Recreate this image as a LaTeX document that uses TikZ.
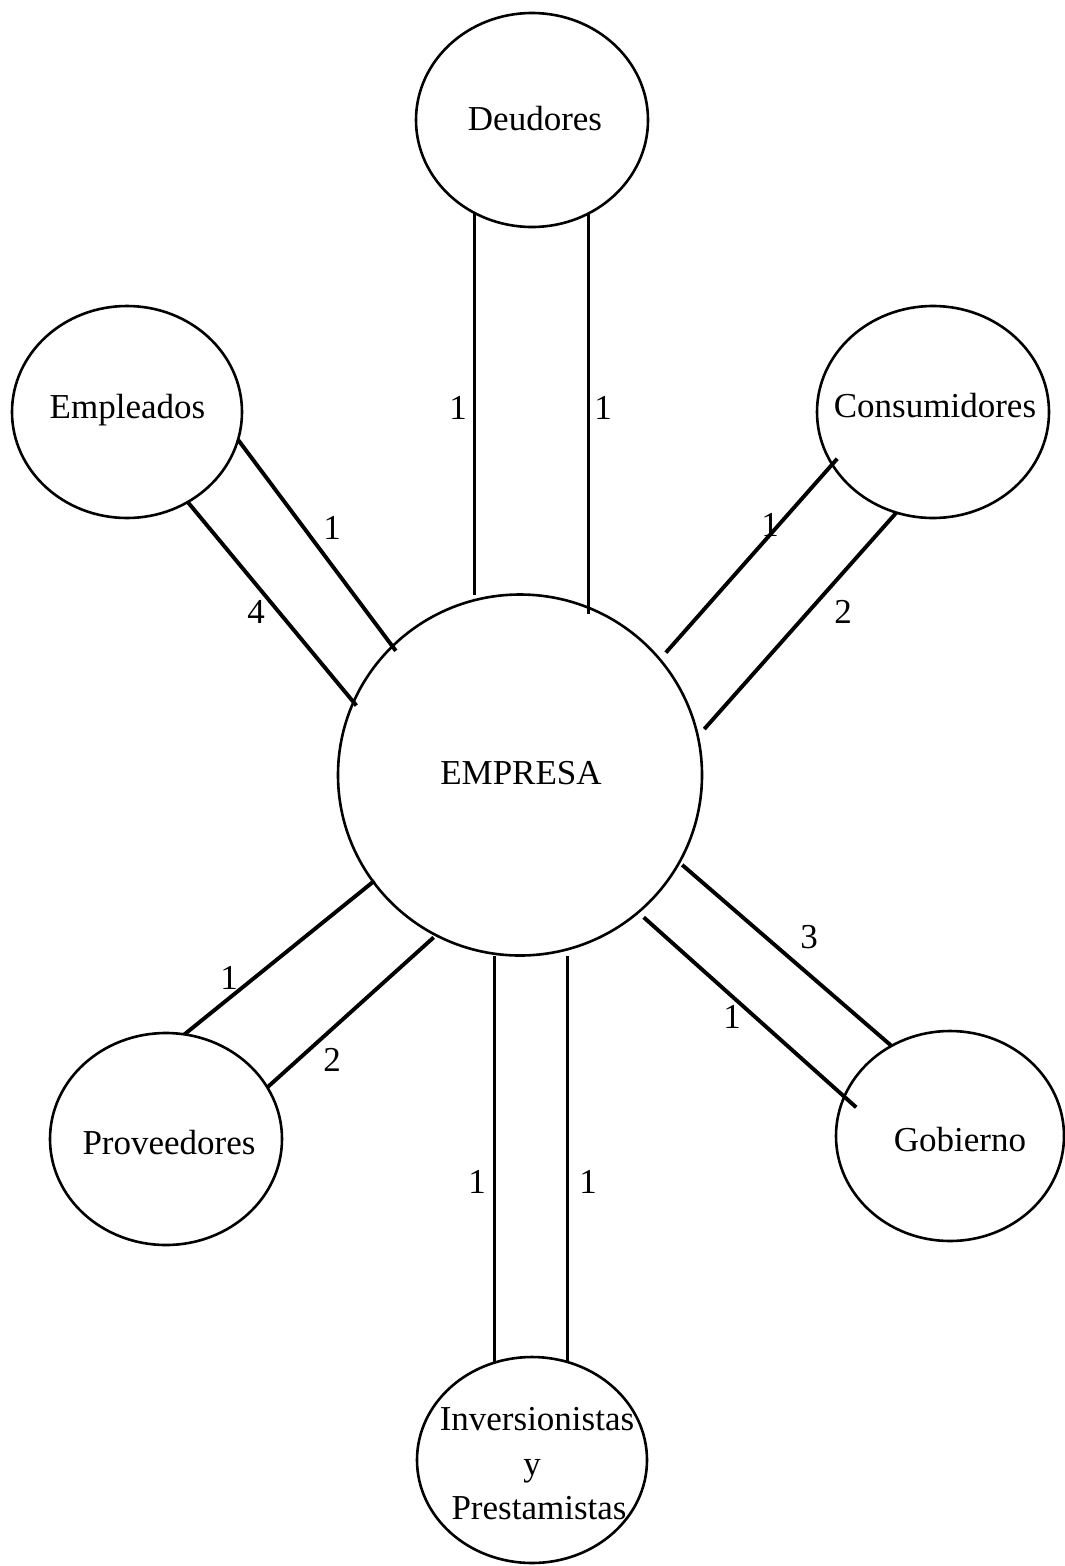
\documentclass[tikz,border=0pt]{standalone}
\usepackage{fontspec}
\setmainfont{Liberation Serif}
\usetikzlibrary{shapes.geometric,calc}
\begin{document}
\begin{tikzpicture}[x=1pt,y=-1pt,
  party/.style={ellipse,draw,line width=2.6pt,inner sep=0pt,outer sep=0pt,
                minimum width=232pt,minimum height=212pt},
  core/.style={party,minimum width=364pt,minimum height=361pt},
  partyname/.style={anchor=base,inner sep=0pt,font=\fontsize{35}{44}\selectfont},
  weight/.style={inner sep=0pt,font=\fontsize{35}{44}\selectfont},
  link/.style={line width=3.1pt},
  slant/.style={line width=3.9pt}]
\useasboundingbox (0,0) rectangle (1065,1566);

% the firm and its stakeholders
\node[core] (E) at (520,775) {};
\node[party,minimum height=214pt] (D) at (532,120) {};
\node[party,minimum width=230pt] (M) at (127,412) {};
\node[party] (C) at (933,412) {};
\node[party] (P) at (166,1139) {};
\node[party,minimum width=228pt,minimum height=210pt] (G) at (950,1136) {};
\node[party,minimum width=230pt,minimum height=206pt] (I) at (532,1460) {};

% names
\node[partyname] (tD) at (535,130) {Deudores};
\node[partyname] (tM) at (127.5,418) {Empleados};
\node[partyname] (tC) at (935,417) {Consumidores};
\node[partyname] (tE) at (521,784) {EMPRESA};
\node[partyname] (tP) at (169,1154) {Proveedores};
\node[partyname] (tG) at (960,1151) {Gobierno};
\node[partyname] (tI1) at (537,1430) {Inversionistas};
\node[partyname] (tI2) at (532,1475) {y};
\node[partyname] (tI3) at (539,1519) {Prestamistas};

% Deudores
\draw[link] (D.238) -- (D.238 |- E.north);
\draw[link] (D.301) -- (D.301 |- E.63);
% Empleados
\draw[slant] (M.346) -- ($(E.center)!0.969!(E.135.5)$);
\draw[slant] (M.304) -- ($(E.center)!0.978!(E.157.8)$);
% Consumidores
\draw[slant] ($(C.center)!0.936!(C.206.8)$) -- ($(E.center)!1.05!(E.40.7)$);
\draw[slant] (C.250.6) -- ($(E.center)!1.044!(E.14.4)$);
% Proveedores
\draw[slant] ($(E.center)!0.992!(E.216.2)$) -- (P.80.4);
\draw[slant] ($(E.center)!1.017!(E.242.2)$) -- (P.27.5);
% Gobierno
\draw[slant] ($(E.center)!1.021!(E.331.9)$) -- (G.123.5);
\draw[slant] ($(E.center)!1.041!(E.311.1)$) -- ($(G.center)!0.867!(G.163.4)$);
% Inversionistas y Prestamistas
\draw[link] (I.111.4) -- (I.111.4 |- E.south);
\draw[link] (I.70.6) -- (I.70.6 |- E.south);

% link weights
\node[weight] (wD1) at (458,408) {1};
\node[weight] (wD2) at (603,408) {1};
\node[weight] (wM1) at (332,528) {1};
\node[weight] (wM2) at (256,612) {4};
\node[weight] (wC1) at (770,525) {1};
\node[weight] (wC2) at (843,612) {2};
\node[weight] (wP1) at (229,978) {1};
\node[weight] (wP2) at (332,1060) {2};
\node[weight] (wG1) at (809,937) {3};
\node[weight] (wG2) at (732,1017) {1};
\node[weight] (wI1) at (477,1182) {1};
\node[weight] (wI2) at (588,1182) {1};
\end{tikzpicture}
\end{document}
